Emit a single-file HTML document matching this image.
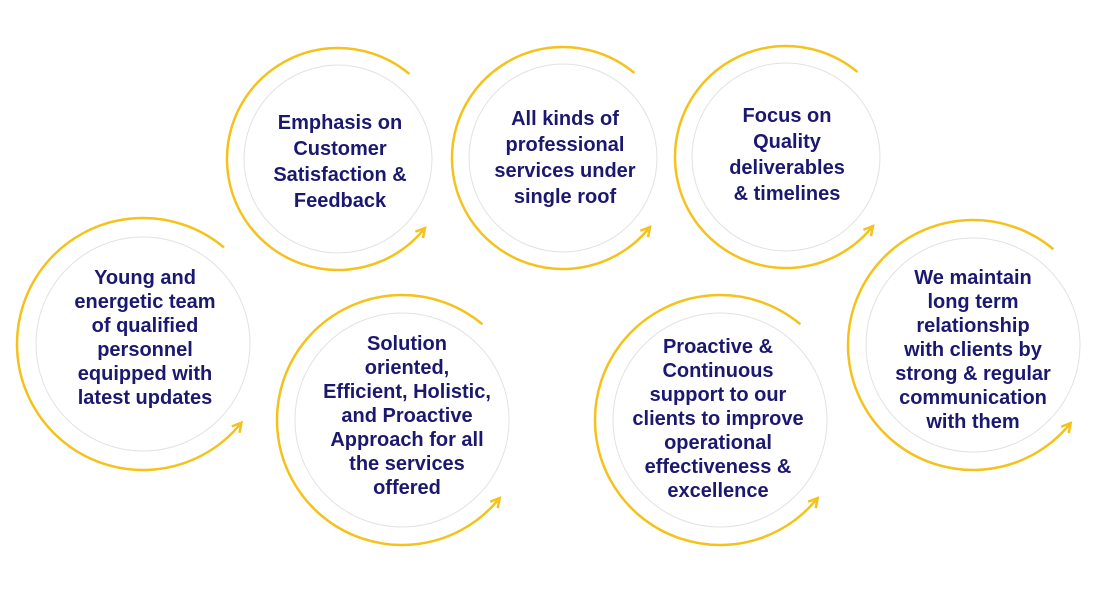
<!DOCTYPE html>
<html><head><meta charset="utf-8"><style>
html,body{margin:0;padding:0;background:#fff;width:1100px;height:600px;overflow:hidden}
svg text{font-family:"Liberation Sans",sans-serif;font-weight:bold;font-size:20px;fill:#1b1870;text-anchor:middle}
</style></head><body>
<svg id="s" width="1100" height="600" viewBox="0 0 1100 600" xmlns="http://www.w3.org/2000/svg"></svg>
<script>
var NS="http://www.w3.org/2000/svg",s=document.getElementById('s');
var C=[
 [143,344,126,107,145,337,24,["Young and","energetic team","of qualified","personnel","equipped with","latest updates"]],
 [338,159,111,94,340,161,26,["Emphasis on","Customer","Satisfaction &","Feedback"]],
 [563,158,111,94,565,157,26,["All kinds of","professional","services under","single roof"]],
 [786,157,111,94,787,154,26,["Focus on","Quality","deliverables","& timelines"]],
 [402,420,125,107,407,415,24,["Solution","oriented,","Efficient, Holistic,","and Proactive","Approach for all","the services","offered"]],
 [720,420,125,107,718,418,24,["Proactive &","Continuous","support to our","clients to improve","operational","effectiveness &","excellence"]],
 [973,345,125,107,973,349,24,["We maintain","long term","relationship","with clients by","strong & regular","communication","with them"]]
];
function el(n,a){var e=document.createElementNS(NS,n);for(var k in a)e.setAttribute(k,a[k]);s.appendChild(e);return e;}
C.forEach(function(c){
 var cx=c[0],cy=c[1],R=c[2],r=c[3];
 el('circle',{cx:cx,cy:cy,r:r,fill:'#fff',stroke:'#e2e2e2','stroke-width':1});
 var a0=-50*Math.PI/180,a1=40*Math.PI/180;
 var x0=cx+R*Math.cos(a0),y0=cy+R*Math.sin(a0),x1=cx+R*Math.cos(a1),y1=cy+R*Math.sin(a1);
 el('path',{d:'M'+x0+' '+y0+' A'+R+' '+R+' 0 1 0 '+x1+' '+y1,fill:'none',stroke:'#f4c21b','stroke-width':2.5});
 var tx=Math.sin(a1),ty=-Math.cos(a1),nx=-ty,ny=tx,L=9,W=5;
 var px=x1+tx*3,py=y1+ty*3;
 el('path',{d:'M'+(px-tx*L+nx*W)+' '+(py-ty*L+ny*W)+' L'+px+' '+py+' L'+(px-tx*L-nx*W)+' '+(py-ty*L-ny*W),fill:'none',stroke:'#f4c21b','stroke-width':2.5,'stroke-linejoin':'miter'});
 var lh=c[6],n=c[7].length,b=c[5]-(n-1)*lh/2+7;
 c[7].forEach(function(t,i){var e=el('text',{x:c[4],y:b+i*lh});e.textContent=t;});
});
</script>
</body></html>
